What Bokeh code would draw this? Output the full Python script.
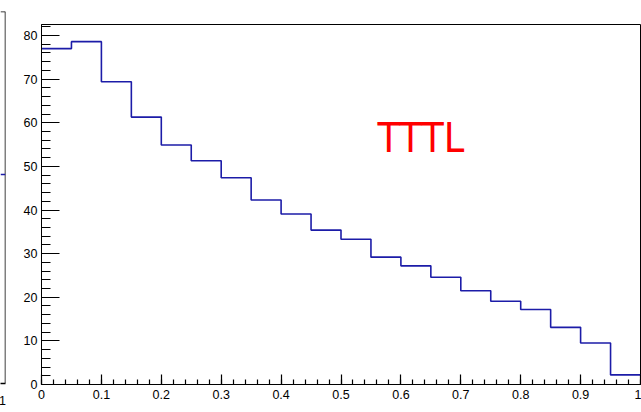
from bokeh.plotting import figure
from bokeh.layouts import row
from bokeh.models import Range1d, FixedTicker, Label
from bokeh.embed import file_html
from bokeh.resources import INLINE

# ---- data -------------------------------------------------------------
bin_edges = [round(0.05 * i, 2) for i in range(21)]
bin_counts = [77.0, 78.6, 69.4, 61.3, 54.9, 51.3, 47.4, 42.3, 39.1, 35.4,
              33.3, 29.2, 27.2, 24.6, 21.5, 19.1, 17.2, 13.1, 9.5, 2.2]

x_major_ticks = [0.0, 0.1, 0.2, 0.3, 0.4, 0.5, 0.6, 0.7, 0.8, 0.9, 1.0]
x_tick_labels = ["0", "0.1", "0.2", "0.3", "0.4", "0.5", "0.6", "0.7", "0.8", "0.9", "1"]
x_minor_ticks = [round(0.02 * i, 2) for i in range(51)]
y_major_ticks = [0, 10, 20, 30, 40, 50, 60, 70, 80]
y_minor_ticks = list(range(0, 84, 2))

# the neighbouring pad: only its last bin and its right edge show
prev_axis_end = 1.0
prev_last_bin = 0.562

label_text = "TTTL"

FONT = "Liberation Sans"
LINE_BLUE = "#1c1ca8"

# ---- neighbouring pad (narrow strip) -----------------------------------
left = figure(width=7, height=412, output_backend="svg", toolbar_location=None,
              title=None,
              x_range=Range1d(prev_axis_end - 0.01, prev_axis_end),
              y_range=Range1d(0, 1),
              min_border_left=0, min_border_right=2,
              min_border_top=11, min_border_bottom=29)
left.frame_align = False
left.outline_line_color = None
left.grid.visible = False
left.yaxis.visible = False
left.xaxis.ticker = FixedTicker(ticks=[prev_axis_end], minor_ticks=[])
left.xaxis.major_label_overrides = {prev_axis_end: "1"}
left.xaxis.major_tick_line_color = None
left.xaxis.axis_line_color = "black"
left.xaxis.axis_line_width = 1.5
left.xaxis.major_label_text_font = FONT
left.xaxis.major_label_text_font_size = "12.5px"
left.xaxis.major_label_text_color = "black"
left.xaxis.major_label_standoff = 6
left.segment(x0=[prev_axis_end, prev_axis_end - 0.01], y0=[0, 1],
             x1=[prev_axis_end, prev_axis_end], y1=[1, 1],
             line_color="black", line_width=1.5)
left.segment(x0=[prev_axis_end - 0.01], y0=[prev_last_bin],
             x1=[prev_axis_end], y1=[prev_last_bin],
             line_color=LINE_BLUE, line_width=1.5)

# ---- main histogram pad ------------------------------------------------
y_top = max(bin_counts) * 1.05

p = figure(width=634, height=412, output_backend="svg", toolbar_location=None,
           title=None,
           x_range=Range1d(0, 1), y_range=Range1d(0, y_top),
           min_border_left=34, min_border_right=1,
           min_border_top=24, min_border_bottom=28)
p.frame_align = False
p.grid.visible = False
p.outline_line_color = "black"
p.outline_line_width = 1
p.background_fill_color = "white"
p.border_fill_color = "white"

# x axis: ticks pointing into the frame
p.xaxis.ticker = FixedTicker(ticks=x_major_ticks, minor_ticks=x_minor_ticks)
p.xaxis.major_label_overrides = dict(zip(x_major_ticks, x_tick_labels))
p.xaxis.major_tick_in = 10
p.xaxis.major_tick_out = 0
p.xaxis.minor_tick_in = 5
p.xaxis.minor_tick_out = 0
p.xaxis.major_label_standoff = 5

# y axis
p.yaxis.ticker = FixedTicker(ticks=y_major_ticks, minor_ticks=y_minor_ticks)
p.yaxis.major_tick_in = 18
p.yaxis.major_tick_out = 0
p.yaxis.minor_tick_in = 9
p.yaxis.minor_tick_out = 0
p.yaxis.major_label_standoff = 4

for ax in (p.xaxis, p.yaxis):
    ax.axis_line_color = "black"
    ax.axis_line_width = 1
    ax.major_tick_line_color = "black"
    ax.minor_tick_line_color = "black"
    ax.major_tick_line_width = 1.2
    ax.minor_tick_line_width = 1.2
    ax.major_label_text_font = FONT
    ax.major_label_text_font_size = "12.5px"
    ax.major_label_text_color = "black"

# histogram outline drawn as steps over the bin edges
step_y = bin_counts + [bin_counts[-1]]
p.step(x=bin_edges, y=step_y, mode="after", line_color=LINE_BLUE, line_width=1.6)

p.add_layout(Label(x=0.561, y=56.4, text=label_text,
                   text_font="DejaVu Sans Condensed", text_font_size="41px",
                   text_color="red", text_align="left",
                   text_baseline="alphabetic"))

layout = row(left, p)
open("out.html", "w").write(file_html(layout, INLINE))
